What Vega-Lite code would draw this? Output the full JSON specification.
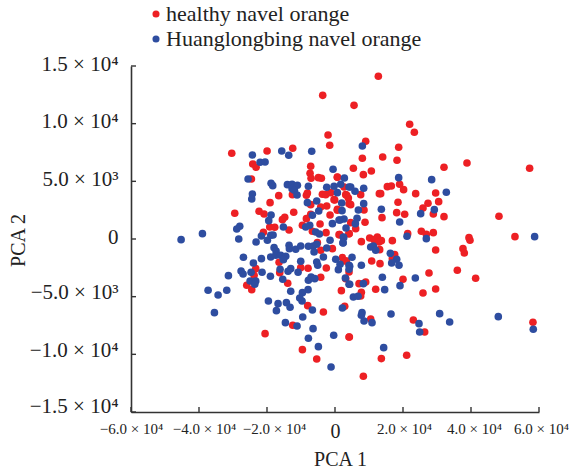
{"$schema":"https://vega.github.io/schema/vega-lite/v6.json","width":408,"height":346,"autosize":{"type":"none"},"padding":{"left":131,"top":66,"right":32,"bottom":60},"background":"white","config":{"view":{"stroke":null},"font":"Liberation Serif"},
"resolve":{"axis":{"x":"independent","y":"independent"}},
"layer":[{
"data":{"values":[
{"g":"h","x":-3612,"y":12458},{"g":"h","x":-2044,"y":9019},{"g":"h","x":-1554,"y":8124},{"g":"h","x":-30366,"y":7430},{"g":"h","x":-19978,"y":7632},{"g":"h","x":-12432,"y":7863},{"g":"h","x":-24192,"y":6505},{"g":"h","x":-23212,"y":6216},{"g":"h","x":-7140,"y":6303},{"g":"h","x":-7336,"y":5696},{"g":"h","x":-7042,"y":5262},{"g":"h","x":-24584,"y":5205},{"g":"h","x":-4886,"y":5320},{"g":"h","x":-4004,"y":5262},{"g":"h","x":700,"y":5349},{"g":"h","x":-16548,"y":3760},{"g":"h","x":-19096,"y":3152},{"g":"h","x":-12530,"y":3846},{"g":"h","x":-8414,"y":3789},{"g":"h","x":-8120,"y":3991},{"g":"h","x":-3710,"y":3875},{"g":"h","x":-2730,"y":3846},{"g":"h","x":-1260,"y":4020},{"g":"h","x":-84,"y":3384},{"g":"h","x":2660,"y":4511},{"g":"h","x":3444,"y":3789},{"g":"h","x":4130,"y":3066},{"g":"h","x":-7140,"y":2979},{"g":"h","x":-2436,"y":2864},{"g":"h","x":-4200,"y":2777},{"g":"h","x":700,"y":2575},{"g":"h","x":-29484,"y":2228},{"g":"h","x":-22330,"y":2401},{"g":"h","x":-20860,"y":2170},{"g":"h","x":-14784,"y":1881},{"g":"h","x":-15470,"y":1679},{"g":"h","x":-12138,"y":2315},{"g":"h","x":-1456,"y":2083},{"g":"h","x":-8414,"y":1766},{"g":"h","x":-7140,"y":2141},{"g":"h","x":-9590,"y":1187},{"g":"h","x":-4396,"y":1303},{"g":"h","x":-19194,"y":1043},{"g":"h","x":-17724,"y":1014},{"g":"h","x":-13510,"y":783},{"g":"h","x":-21056,"y":581},{"g":"h","x":-6650,"y":667},{"g":"h","x":-2632,"y":552},{"g":"h","x":1386,"y":378},{"g":"h","x":4130,"y":465},
{"g":"h","x":12750,"y":14106},{"g":"h","x":5596,"y":11591},{"g":"h","x":21962,"y":9944},{"g":"h","x":23334,"y":9251},{"g":"h","x":9026,"y":8470},{"g":"h","x":18728,"y":7950},{"g":"h","x":8046,"y":6997},{"g":"h","x":14024,"y":7112},{"g":"h","x":18238,"y":6823},{"g":"h","x":5400,"y":6129},{"g":"h","x":10692,"y":5898},{"g":"h","x":8340,"y":5580},{"g":"h","x":32056,"y":6216},{"g":"h","x":38818,"y":6592},{"g":"h","x":57242,"y":6129},{"g":"h","x":696,"y":5378},{"g":"h","x":15396,"y":4540},{"g":"h","x":16572,"y":4598},{"g":"h","x":19002,"y":4742},{"g":"h","x":20178,"y":4280},{"g":"h","x":23726,"y":3933},{"g":"h","x":13436,"y":3933},{"g":"h","x":13044,"y":3933},{"g":"h","x":29606,"y":3991},{"g":"h","x":7556,"y":3846},{"g":"h","x":3146,"y":3846},{"g":"h","x":3930,"y":3557},{"g":"h","x":-284,"y":3413},{"g":"h","x":4616,"y":2979},{"g":"h","x":18532,"y":3182},{"g":"h","x":27352,"y":3095},{"g":"h","x":30488,"y":3240},{"g":"h","x":25882,"y":2690},{"g":"h","x":8536,"y":2517},{"g":"h","x":696,"y":2488},{"g":"h","x":18140,"y":2286},{"g":"h","x":20492,"y":2141},{"g":"h","x":13828,"y":1852},{"g":"h","x":28920,"y":2170},{"g":"h","x":32056,"y":1940},{"g":"h","x":48226,"y":1968},{"g":"h","x":4616,"y":1419},{"g":"h","x":8830,"y":1448},{"g":"h","x":6086,"y":899},{"g":"h","x":4126,"y":465},{"g":"h","x":1186,"y":378},{"g":"h","x":25392,"y":667},{"g":"h","x":26862,"y":407},{"g":"h","x":28920,"y":552},{"g":"h","x":21374,"y":465},{"g":"h","x":39406,"y":118},{"g":"h","x":39700,"y":-113},{"g":"h","x":52930,"y":205},{"g":"h","x":10202,"y":90},{"g":"h","x":12456,"y":176},{"g":"h","x":7752,"y":-230},{"g":"h","x":16866,"y":-142},{"g":"h","x":11476,"y":-55},{"g":"h","x":13632,"y":-142},{"g":"h","x":12946,"y":-260},
{"g":"h","x":-23310,"y":-2570},{"g":"h","x":-23800,"y":-3148},{"g":"h","x":-25956,"y":-4015},{"g":"h","x":-24486,"y":-4390},{"g":"h","x":-16450,"y":-2020},{"g":"h","x":-16254,"y":-2916},{"g":"h","x":-13902,"y":-3841},{"g":"h","x":-10080,"y":-2483},{"g":"h","x":-7924,"y":-2541},{"g":"h","x":-2554,"y":-2512},{"g":"h","x":-4200,"y":-3321},{"g":"h","x":1876,"y":-4477},{"g":"h","x":2856,"y":-5835},{"g":"h","x":-8022,"y":-5777},{"g":"h","x":-3416,"y":-6326},{"g":"h","x":-12432,"y":-7483},{"g":"h","x":-20566,"y":-8205},{"g":"h","x":-9590,"y":-9592},{"g":"h","x":-5376,"y":-10401},{"g":"h","x":4130,"y":-8494},{"g":"h","x":-768,"y":-835},{"g":"h","x":-4200,"y":-980},{"g":"h","x":-5180,"y":-315},{"g":"h","x":2170,"y":-1616},{"g":"h","x":3150,"y":-3436},{"g":"h","x":3150,"y":-1905},
{"g":"h","x":29606,"y":-951},{"g":"h","x":37642,"y":-836},{"g":"h","x":38034,"y":-1211},{"g":"h","x":13142,"y":-922},{"g":"h","x":17552,"y":-1356},{"g":"h","x":16866,"y":-1702},{"g":"h","x":3342,"y":-1905},{"g":"h","x":10790,"y":-1905},{"g":"h","x":13240,"y":-2136},{"g":"h","x":4126,"y":-2859},{"g":"h","x":35976,"y":-2714},{"g":"h","x":27646,"y":-2945},{"g":"h","x":41366,"y":-3408},{"g":"h","x":20002,"y":-3494},{"g":"h","x":7066,"y":-3870},{"g":"h","x":9026,"y":-3726},{"g":"h","x":11966,"y":-4361},{"g":"h","x":29606,"y":-4332},{"g":"h","x":25882,"y":-4679},{"g":"h","x":7752,"y":-4621},{"g":"h","x":7556,"y":-4939},{"g":"h","x":10496,"y":-6933},{"g":"h","x":23040,"y":-7020},{"g":"h","x":26372,"y":-8060},{"g":"h","x":58222,"y":-7222},{"g":"h","x":4224,"y":-8494},{"g":"h","x":13632,"y":-10372},{"g":"h","x":21080,"y":-10083},{"g":"h","x":8340,"y":-11904},
{"g":"b","x":-24290,"y":7285},{"g":"b","x":-22036,"y":6650},{"g":"b","x":-20566,"y":6679},{"g":"b","x":-15666,"y":7632},{"g":"b","x":-13608,"y":7256},{"g":"b","x":-6846,"y":7603},{"g":"b","x":-572,"y":6043},{"g":"b","x":-25564,"y":5205},{"g":"b","x":2758,"y":5291},{"g":"b","x":-18802,"y":4829},{"g":"b","x":-18312,"y":4626},{"g":"b","x":-14000,"y":4713},{"g":"b","x":-12628,"y":4742},{"g":"b","x":-11060,"y":4655},{"g":"b","x":-12628,"y":4367},{"g":"b","x":-11942,"y":4222},{"g":"b","x":-11158,"y":3817},{"g":"b","x":-7826,"y":4569},{"g":"b","x":-2436,"y":4482},{"g":"b","x":-280,"y":4569},{"g":"b","x":1680,"y":4742},{"g":"b","x":700,"y":4020},{"g":"b","x":4130,"y":4511},{"g":"b","x":-24290,"y":3904},{"g":"b","x":-24486,"y":3471},{"g":"b","x":-8120,"y":3152},{"g":"b","x":-5376,"y":3297},{"g":"b","x":1974,"y":3123},{"g":"b","x":-4788,"y":2430},{"g":"b","x":2072,"y":2459},{"g":"b","x":-6650,"y":2054},{"g":"b","x":-18802,"y":2083},{"g":"b","x":-19488,"y":1592},{"g":"b","x":-15176,"y":1043},{"g":"b","x":-770,"y":1332},{"g":"b","x":1484,"y":1650},{"g":"b","x":2660,"y":1737},{"g":"b","x":3248,"y":956},{"g":"b","x":-7434,"y":1187},{"g":"b","x":-8610,"y":1043},{"g":"b","x":-5670,"y":610},{"g":"b","x":-4592,"y":436},{"g":"b","x":-28014,"y":1101},{"g":"b","x":-28896,"y":870},{"g":"b","x":-38990,"y":465},{"g":"b","x":-45262,"y":-55},{"g":"b","x":-28308,"y":3},{"g":"b","x":-18900,"y":320},{"g":"b","x":-18214,"y":349},{"g":"b","x":-21644,"y":263},
{"g":"b","x":8046,"y":8066},{"g":"b","x":18728,"y":5320},{"g":"b","x":28430,"y":5147},{"g":"b","x":4616,"y":4511},{"g":"b","x":5890,"y":4135},{"g":"b","x":8438,"y":4395},{"g":"b","x":32742,"y":4049},{"g":"b","x":8438,"y":3066},{"g":"b","x":6870,"y":2517},{"g":"b","x":13632,"y":2575},{"g":"b","x":29214,"y":2546},{"g":"b","x":25196,"y":2199},{"g":"b","x":6478,"y":1795},{"g":"b","x":1186,"y":1650},{"g":"b","x":5988,"y":1332},{"g":"b","x":19022,"y":1476},{"g":"b","x":2460,"y":176},{"g":"b","x":21178,"y":234},{"g":"b","x":26862,"y":32},{"g":"b","x":58712,"y":205},
{"g":"b","x":-23212,"y":-257},{"g":"b","x":-19880,"y":-113},{"g":"b","x":-17920,"y":-749},{"g":"b","x":-17332,"y":-1038},{"g":"b","x":-18900,"y":-1558},{"g":"b","x":-17430,"y":-1413},{"g":"b","x":-15960,"y":-1413},{"g":"b","x":-14490,"y":-1500},{"g":"b","x":-15176,"y":-1789},{"g":"b","x":-13510,"y":-547},{"g":"b","x":-13412,"y":-836},{"g":"b","x":-11550,"y":-893},{"g":"b","x":-10080,"y":-604},{"g":"b","x":-7826,"y":-633},{"g":"b","x":-6356,"y":-604},{"g":"b","x":-5376,"y":-460},{"g":"b","x":-6160,"y":-1124},{"g":"b","x":-1456,"y":-113},{"g":"b","x":-2436,"y":-778},{"g":"b","x":2366,"y":-344},{"g":"b","x":2562,"y":118},{"g":"b","x":210,"y":-1760},{"g":"b","x":1484,"y":-2194},{"g":"b","x":994,"y":-2656},{"g":"b","x":-3416,"y":-1558},{"g":"b","x":-5376,"y":-1991},{"g":"b","x":-5082,"y":-2280},{"g":"b","x":-10080,"y":-1934},{"g":"b","x":-10864,"y":-2888},{"g":"b","x":-13020,"y":-2570},{"g":"b","x":-13804,"y":-2801},{"g":"b","x":-16156,"y":-2627},{"g":"b","x":-21448,"y":-2888},{"g":"b","x":-26936,"y":-1587},{"g":"b","x":-24006,"y":-2078},{"g":"b","x":-21644,"y":-1703},{"g":"b","x":-27622,"y":-2772},{"g":"b","x":-27034,"y":-3032},{"g":"b","x":-24682,"y":-2888},{"g":"b","x":-31346,"y":-3176},{"g":"b","x":-18998,"y":-3234},{"g":"b","x":-15372,"y":-3494},{"g":"b","x":-24976,"y":-3639},{"g":"b","x":-23310,"y":-3639},{"g":"b","x":-23604,"y":-3928},{"g":"b","x":-7826,"y":-3581},{"g":"b","x":-7042,"y":-3292},{"g":"b","x":-5964,"y":-3436},{"g":"b","x":3052,"y":-3379},{"g":"b","x":4130,"y":-3928},{"g":"b","x":-37324,"y":-4448},{"g":"b","x":-34384,"y":-4853},{"g":"b","x":-31836,"y":-4448},{"g":"b","x":-13020,"y":-4535},{"g":"b","x":-7924,"y":-4390},{"g":"b","x":-9590,"y":-4650},{"g":"b","x":-10374,"y":-5113},{"g":"b","x":-9688,"y":-5373},{"g":"b","x":-19586,"y":-5373},{"g":"b","x":-16744,"y":-5604},{"g":"b","x":-14294,"y":-5517},{"g":"b","x":-13216,"y":-5922},{"g":"b","x":-17234,"y":-6211},{"g":"b","x":-6650,"y":-6153},{"g":"b","x":2170,"y":-5980},{"g":"b","x":-35462,"y":-6384},{"g":"b","x":-9492,"y":-6760},{"g":"b","x":-14588,"y":-7251},{"g":"b","x":-11158,"y":-7540},{"g":"b","x":-6454,"y":-7772},{"g":"b","x":-7826,"y":-8610},{"g":"b","x":-382,"y":-8349},{"g":"b","x":-4886,"y":-9332},{"g":"b","x":-1162,"y":-11095},{"g":"b","x":4130,"y":-2280},
{"g":"b","x":2362,"y":-315},{"g":"b","x":10496,"y":-691},{"g":"b","x":11280,"y":-604},{"g":"b","x":11966,"y":-980},{"g":"b","x":16278,"y":-1240},{"g":"b","x":18140,"y":-1760},{"g":"b","x":16670,"y":-2078},{"g":"b","x":18826,"y":-2280},{"g":"b","x":5008,"y":-1587},{"g":"b","x":4322,"y":-2367},{"g":"b","x":4126,"y":-2627},{"g":"b","x":7752,"y":-2280},{"g":"b","x":4322,"y":-3928},{"g":"b","x":8340,"y":-3870},{"g":"b","x":13926,"y":-3321},{"g":"b","x":23628,"y":-3379},{"g":"b","x":19120,"y":-4043},{"g":"b","x":14612,"y":-4390},{"g":"b","x":5400,"y":-5026},{"g":"b","x":6772,"y":-4968},{"g":"b","x":7948,"y":-6384},{"g":"b","x":7752,"y":-6615},{"g":"b","x":8536,"y":-7107},{"g":"b","x":10888,"y":-7251},{"g":"b","x":16474,"y":-6500},{"g":"b","x":30782,"y":-6471},{"g":"b","x":33722,"y":-7193},{"g":"b","x":24706,"y":-7338},{"g":"b","x":24902,"y":-8060},{"g":"b","x":48030,"y":-6731},{"g":"b","x":58320,"y":-7829},{"g":"b","x":14318,"y":-9419}
]},
"mark":{"type":"point","filled":true,"opacity":1,"size":58},
"encoding":{
"x":{"field":"x","type":"quantitative","scale":{"domain":[-60000,60000],"nice":false,"zero":false},"axis":{"title":"PCA 1","titleFont":"Liberation Serif","titleFontSize":20,"titleFontWeight":"normal","titleColor":"#222","titleX":209,"titleY":53,"titleBaseline":"alphabetic","grid":false,"ticks":false,"domain":true,"values":[-60000,-40000,-20000,0,20000,40000,60000],"labelExpr":"datum.value==0?'0':(datum.value<0?'−':'')+format(abs(datum.value)/10000,'.1f')+' × 10⁴'","labelFont":"Liberation Serif","labelFontSize":{"expr":"datum.value==0?20:15"},"labelOffset":{"expr":"datum.value==-40000?5:datum.value==-20000?7:datum.value==20000?1:datum.value==40000?3:datum.value==60000?2:0"},"labelColor":"#222","labelOverlap":false,"labelFlush":false,"tickSize":-5,"domainColor":"#333","domainWidth":1.6,"labelPadding":9}},
"y":{"field":"y","type":"quantitative","scale":{"domain":[-15000,15000],"nice":false,"zero":false},"axis":{"title":"PCA 2","titleFont":"Liberation Serif","titleFontSize":20,"titleFontWeight":"normal","titleColor":"#222","titleX":-107,"titleY":174,"titleBaseline":"alphabetic","grid":false,"ticks":false,"domain":true,"values":[-15000,-10000,-5000,0,5000,10000,15000],"labelExpr":"datum.value==0?'0':(datum.value<0?'−':'')+(abs(datum.value)>=10000?format(abs(datum.value)/10000,'.1f')+' × 10⁴':format(abs(datum.value)/1000,'.1f')+' × 10³')","labelFont":"Liberation Serif","labelFontSize":21,"labelColor":"#222","labelOverlap":false,"labelFlush":false,"labelOffset":{"expr":"datum.value==-15000?-6:datum.value<0?-4:-2"},"tickSize":-5,"domainColor":"#333","domainWidth":1.6,"labelPadding":13}},
"color":{"field":"g","type":"nominal","scale":{"domain":["h","b"],"range":["#ED2024","#2E4DA0"]},"legend":{"title":null,"orient":"none","legendX":14,"legendY":-63,"labelExpr":"datum.label=='h'?'healthy navel orange':'Huanglongbing navel orange'","labelFont":"Liberation Serif","labelFontSize":22,"labelColor":"#222","symbolSize":50,"symbolType":"circle","rowPadding":3,"labelOffset":-1,"labelLimit":400}}
}},
{"data":{"values":[{"x":-60000,"y":-15000,"y2":-14570},{"x":-40000,"y":-15000,"y2":-14570},{"x":-20000,"y":-15000,"y2":-14570},{"x":0,"y":-15000,"y2":-14570},{"x":20000,"y":-15000,"y2":-14570},{"x":40000,"y":-15000,"y2":-14570},{"x":60000,"y":-15000,"y2":-14570}]},
"mark":{"type":"rule","color":"#333","strokeWidth":1.4},
"encoding":{"x":{"field":"x","type":"quantitative","axis":null},"y":{"field":"y","type":"quantitative","axis":null},"y2":{"field":"y2"}}},
{"data":{"values":[{"x":-60000,"x2":-58530,"y":-15000},{"x":-60000,"x2":-58530,"y":-10000},{"x":-60000,"x2":-58530,"y":-5000},{"x":-60000,"x2":-58530,"y":0},{"x":-60000,"x2":-58530,"y":5000},{"x":-60000,"x2":-58530,"y":10000},{"x":-60000,"x2":-58530,"y":15000}]},
"mark":{"type":"rule","color":"#333","strokeWidth":1.4},
"encoding":{"x":{"field":"x","type":"quantitative","axis":null},"x2":{"field":"x2"},"y":{"field":"y","type":"quantitative","axis":null}}}
]}
